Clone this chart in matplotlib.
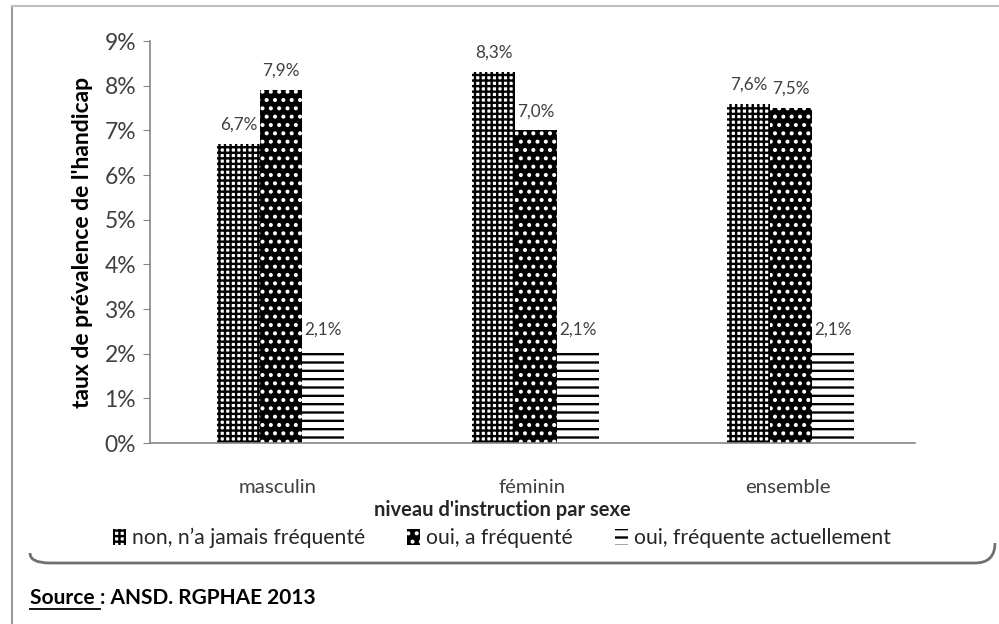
import numpy as np
import matplotlib.pyplot as plt
from matplotlib.patches import Patch, PathPatch
from matplotlib.path import Path
from matplotlib.lines import Line2D

plt.rcParams["font.family"] = ["Lato", "DejaVu Sans"]
plt.rcParams["hatch.linewidth"] = 1.7

categories = ["masculin", "féminin", "ensemble"]
series_names = ["non, n’a jamais fréquenté", "oui, a fréquenté", "oui, fréquente actuellement"]
jamais = [6.7, 8.3, 7.6]
frequente = [7.9, 7.0, 7.5]
actuellement = [2.1, 2.1, 2.1]
y_ticks = [0, 1, 2, 3, 4, 5, 6, 7, 8, 9]

W, H = 999, 624
fig = plt.figure(figsize=(W / 100, H / 100), dpi=100)
ax = fig.add_axes([150 / W, 1 - 443 / H, 765 / W, (443 - 41) / H])

x = np.arange(len(categories))
width = 0.165
styles = [
    dict(facecolor="white", edgecolor="black", hatch="+++"),
    dict(facecolor="black", edgecolor="white", hatch=".."),
    dict(facecolor="white", edgecolor="black", hatch="--"),
]
all_series = [jamais, frequente, actuellement]
for i, (vals, st) in enumerate(zip(all_series, styles)):
    pos = x + (i - 1) * width + 0.012
    bars = ax.bar(pos, vals, width, linewidth=0, **st)
    for b, v in zip(bars, vals):
        ax.text(b.get_x() + b.get_width() / 2, v + 0.25, f"{v:.1f}%".replace(".", ","),
                ha="center", va="bottom", fontsize=12.3, color="#404040")

ax.set_xlim(-0.5, 2.5)
ax.set_ylim(0, 9)
ax.set_yticks(y_ticks)
ax.set_yticklabels([f"{t}%" for t in y_ticks])
ax.set_xticks(x)
ax.set_xticklabels(categories)
ax.tick_params(axis="y", length=5, color="#868686", labelsize=16.5, labelcolor="#404040", pad=5)
ax.tick_params(axis="x", length=0, labelsize=14.7, labelcolor="#404040", pad=26)
for side in ["top", "right"]:
    ax.spines[side].set_visible(False)
for side in ["left", "bottom"]:
    ax.spines[side].set_color("#868686")
    ax.spines[side].set_linewidth(1.2)

ax.set_ylabel("taux de prévalence de l'handicap", fontsize=16.5, fontweight="bold", labelpad=8)
fig.text(502 / W, 1 - 510 / H, "niveau d'instruction par sexe", ha="center", va="center",
         fontsize=14.5, fontweight="bold", color="#262626")

handles = [Patch(linewidth=0, **st) for st in styles]
fig.legend(handles, series_names, loc="center", bbox_to_anchor=(502 / W, 1 - 538 / H), ncol=3,
           frameon=False, fontsize=15.2, handlelength=0.6, handleheight=0.8, handletextpad=0.3,
           columnspacing=2.0, labelcolor="#262626")

# outer frame of the chart block
fig.add_artist(Line2D([12 / W, 12 / W], [0, 1 - 6 / H], transform=fig.transFigure, color="#9a9a9a", lw=1.5))
fig.add_artist(Line2D([12 / W, 1], [1 - 6 / H, 1 - 6 / H], transform=fig.transFigure, color="#c0c0c0", lw=1.5))
verts = [(30, 553), (30, 563), (50, 563), (975, 563), (995, 563), (995, 543)]
codes = [Path.MOVETO, Path.CURVE3, Path.CURVE3, Path.LINETO, Path.CURVE3, Path.CURVE3]
path = Path([(vx / W, 1 - vy / H) for vx, vy in verts], codes)
fig.add_artist(PathPatch(path, transform=fig.transFigure, fill=False, edgecolor="#707070", lw=2))

# source note, "Source" underlined
src = fig.text(30 / W, 1 - 598 / H, "Source ", ha="left", va="center", fontsize=15, fontweight="bold")
renderer = fig.canvas.get_renderer()
bb = src.get_window_extent(renderer).transformed(fig.transFigure.inverted())
fig.add_artist(Line2D([bb.x0, bb.x1], [1 - 609 / H, 1 - 609 / H], transform=fig.transFigure,
                      color="black", lw=1.3))
fig.text(bb.x1, 1 - 598 / H, ": ANSD. RGPHAE 2013", ha="left", va="center", fontsize=15, fontweight="bold")

fig.savefig("out.png", dpi=100)
